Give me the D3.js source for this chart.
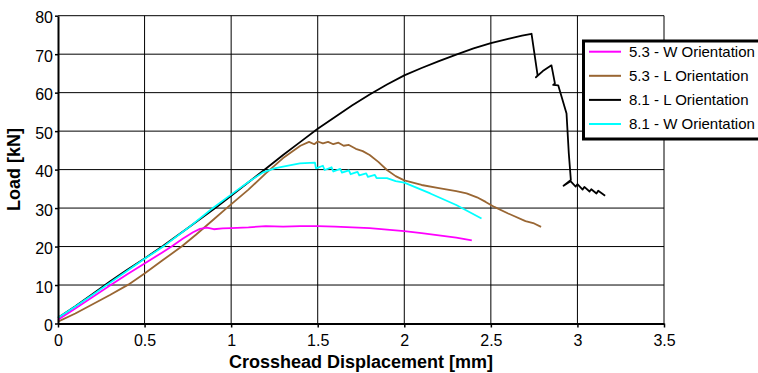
<!DOCTYPE html>
<html>
<head>
<meta charset="utf-8">
<script src="https://cdn.jsdelivr.net/npm/d3@7"></script>
<style>
  body { margin: 0; background: white; }
  text { font-family: "Liberation Sans", Arial, sans-serif; }
</style>
</head>
<body>
<div id="my_dataviz"></div>
<script>

// data: [displacement mm, load kN]
const w53 = [[0,1.0],[0.1,3.9],[0.2,6.9],[0.3,9.9],[0.4,12.8],[0.5,15.6],[0.6,18.4],[0.656,20],[0.72,22],
  [0.78,23.7],[0.82,24.6],[0.86,24.9],[0.9,24.5],[0.95,24.7],[1.0,24.8],[1.1,25.0],[1.2,25.3],[1.3,25.2],
  [1.4,25.3],[1.5,25.3],[1.6,25.2],[1.7,25.0],[1.8,24.8],[1.9,24.4],[2.0,24.0],[2.1,23.5],[2.2,22.9],
  [2.3,22.3],[2.39,21.6]]

const l53 = [[0,0.5],[0.1,2.6],[0.2,5.0],[0.3,7.4],[0.406,10.1],[0.5,13.0],[0.6,16.3],[0.714,20],[0.8,23.2],
  [0.9,27.1],[0.974,30],[1.1,34.8],[1.2,39.0],[1.3,43.0],[1.4,46.2],[1.45,47.2],[1.48,46.6],[1.5,47.3],
  [1.53,46.8],[1.56,47.2],[1.59,46.6],[1.62,47.0],[1.65,46.2],[1.68,46.4],[1.72,45.4],[1.76,44.8],
  [1.8,43.8],[1.85,42.0],[1.9,39.9],[1.95,38.3],[2.0,37.2],[2.1,36.0],[2.2,35.2],[2.3,34.4],[2.36,33.8],
  [2.42,32.8],[2.47,31.6],[2.52,30.3],[2.6,28.6],[2.7,26.6],[2.75,26.0],[2.79,25.1]]

const l81 = [[0,1.5],[0.1,4.5],[0.2,7.7],[0.3,10.9],[0.4,14.0],[0.5,16.9],[0.608,20.2],[0.75,24.8],
  [0.916,30.3],[1.0,33.2],[1.1,36.7],[1.2,40.2],[1.3,43.8],[1.4,47.2],[1.5,50.6],[1.6,53.7],[1.7,56.7],
  [1.8,59.5],[1.9,62.1],[2.0,64.5],[2.1,66.4],[2.2,68.2],[2.3,69.9],[2.4,71.5],[2.5,72.9],[2.6,74.0],
  [2.68,74.8],[2.735,75.3],[2.77,64.5],[2.76,64.0],[2.80,65.6],[2.85,67.1],[2.87,62.4],
  [2.86,62.0],[2.889,61.9],[2.937,54.6],[2.95,44.3],[2.962,37.3],[2.92,35.8],[2.96,37.0],[2.99,35.6],
  [3.0,36.2],[3.03,34.8],[3.04,35.5],[3.07,34.3],[3.08,34.9],[3.11,33.8],[3.12,34.5],[3.16,33.2]]

const w81 = [[0,1.5],[0.1,4.4],[0.2,7.5],[0.3,10.6],[0.4,13.7],[0.5,16.8],[0.617,20.3],[0.75,24.8],[0.895,30],[1.0,33.5],
  [1.1,36.8],[1.185,39.3],[1.25,40.3],[1.3,40.8],[1.397,41.6],[1.484,41.8],[1.49,40.3],[1.53,41.0],[1.54,39.9],
  [1.58,40.6],[1.59,39.5],[1.63,40.2],[1.64,39.2],[1.68,39.8],[1.69,38.8],[1.73,39.4],[1.74,38.5],
  [1.78,39.0],[1.79,38.1],[1.83,38.6],[1.84,37.8],[1.9,37.8],[1.95,37.0],[2.0,36.6],[2.15,33.8],
  [2.3,30.8],[2.446,27.3]]

const seriesNames = ["5.3 - W Orientation", "5.3 - L Orientation", "8.1 - L Orientation", "8.1 - W Orientation"]
const seriesData = [w53, l53, l81, w81]
const seriesColors = ["#ff00ff", "#996633", "#000000", "#00ffff"]

const xTicks = [0, 0.5, 1, 1.5, 2, 2.5, 3, 3.5]
const yTicks = [0, 10, 20, 30, 40, 50, 60, 70, 80]


const margin = {top: 15.7, right: 94, bottom: 49.5, left: 58},
    width = 758 - margin.left - margin.right,
    height = 373 - margin.top - margin.bottom;

const svg = d3.select("#my_dataviz")
    .append("svg")
    .attr("width", 758)
    .attr("height", 373)
    .append("g")
    .attr("transform", `translate(${margin.left}, ${margin.top})`);

const x = d3.scaleLinear().domain([0, 3.5]).range([0, width])
const y = d3.scaleLinear().domain([0, 80]).range([height, 0])

// grid
svg.selectAll(".hgrid")
    .data(yTicks.slice(1))
    .join("line")
    .attr("x1", 0).attr("x2", width)
    .attr("y1", d => y(d)).attr("y2", d => y(d))
    .style("stroke", "#000").style("stroke-width", 1)

svg.selectAll(".vgrid")
    .data(xTicks.slice(1))
    .join("line")
    .attr("x1", d => x(d)).attr("x2", d => x(d))
    .attr("y1", 0).attr("y2", height)
    .style("stroke", "#000").style("stroke-width", 1)

// curves, black first so cyan sits on top
const line = d3.line().x(d => x(d[0])).y(d => y(d[1]))
const drawOrder = [2, 1, 0, 3]
drawOrder.forEach(function(i) {
    svg.append("path")
        .datum(seriesData[i])
        .attr("d", line)
        .style("fill", "none")
        .style("stroke", seriesColors[i])
        .style("stroke-width", 1.8)
        .style("stroke-linejoin", "round")
})

// axes
const xAxis = svg.append("g")
    .attr("transform", `translate(0, ${height})`)
    .call(d3.axisBottom(x).tickValues(xTicks).tickFormat(d3.format("")).tickSize(4).tickPadding(7).tickSizeOuter(0))
const yAxis = svg.append("g")
    .call(d3.axisLeft(y).tickValues(yTicks).tickSize(3).tickPadding(2).tickSizeOuter(0))

;[xAxis, yAxis].forEach(function(a) {
    a.select(".domain").style("stroke", "#000").style("stroke-width", 2)
    a.selectAll(".tick line").style("stroke", "#000").style("stroke-width", 1.5)
    a.selectAll(".tick text")
        .attr("font-size", "16px")
        .attr("fill", "#000")
        .style("font-family", "'Liberation Sans', Arial, sans-serif")
})
yAxis.selectAll(".tick text").attr("dy", "0.45em")

// axis titles
svg.append("text")
    .attr("x", width / 2)
    .attr("y", 368 - margin.top)
    .text("Crosshead Displacement [mm]")
    .attr("font-size", "18px")
    .style("font-weight", "bold")
    .style("text-anchor", "middle")

svg.append("text")
    .attr("transform", `translate(${20 - margin.left}, ${height / 2}) rotate(-90)`)
    .text("Load [kN]")
    .attr("font-size", "18px")
    .style("font-weight", "bold")
    .style("text-anchor", "middle")

// legend
const legend = svg.append("g")
    .attr("transform", `translate(${583.5 - margin.left}, ${41 - margin.top})`)

legend.append("rect")
    .attr("x", 0).attr("y", 0)
    .attr("width", 190).attr("height", 98)
    .style("fill", "white")
    .style("stroke", "black")
    .style("stroke-width", 3)

const rows = legend.selectAll(".row")
    .data(seriesNames)
    .join("g")
    .attr("transform", (d, i) => `translate(0, ${10.7 + i * 24.1})`)

rows.append("line")
    .attr("x1", 5.5).attr("x2", 37.5)
    .attr("y1", 0).attr("y2", 0)
    .style("stroke", (d, i) => seriesColors[i])
    .style("stroke-width", 2)

rows.append("text")
    .attr("x", 45.5)
    .attr("y", 5.3)
    .text(d => d)
    .attr("font-size", "15px")
    .attr("fill", "black")

</script>
</body>
</html>
